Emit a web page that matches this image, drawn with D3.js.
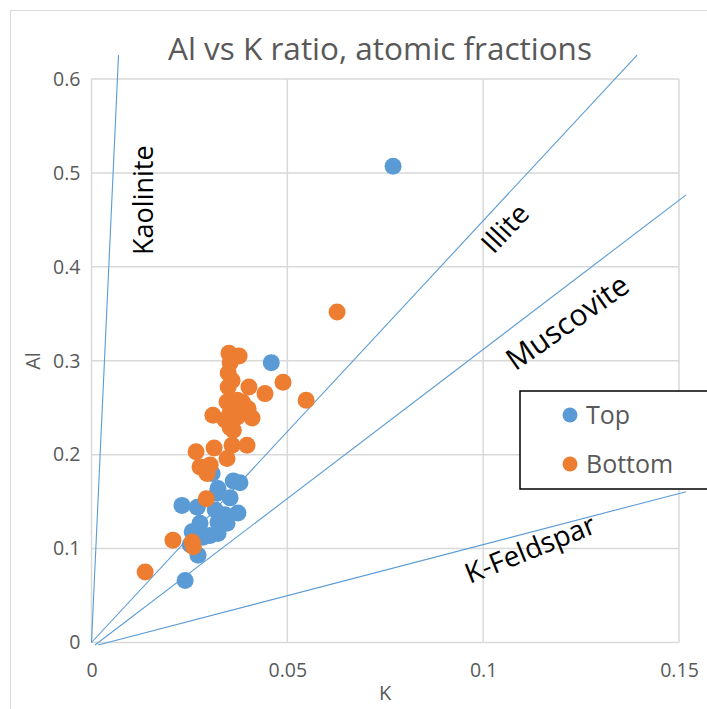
<!DOCTYPE html>
<html>
<head>
<meta charset="utf-8">
<script src="https://cdn.jsdelivr.net/npm/d3@7/dist/d3.min.js"></script>
<style>
  body { margin: 0; background: #fff; }
  svg { display: block; font-family: "Open Sans", "Noto Sans", sans-serif; }
</style>
</head>
<body>
<div id="chart"></div>
<script>
// series values (K, Al atomic fractions)
var topK  = [0.0770, 0.0459, 0.0231, 0.0270, 0.0321, 0.0362, 0.0379, 0.0354, 0.0316, 0.0341, 0.0374,
             0.0277, 0.0323, 0.0346, 0.0257, 0.0285, 0.0323, 0.0303, 0.0272, 0.0239, 0.0308, 0.0323, 0.0252];
var topAl = [0.507, 0.298, 0.146, 0.144, 0.159, 0.172, 0.170, 0.154, 0.141, 0.136, 0.138,
             0.127, 0.128, 0.127, 0.118, 0.112, 0.116, 0.114, 0.093, 0.066, 0.180, 0.164, 0.104];

var bottomK  = [0.0627, 0.0351, 0.0377, 0.0354, 0.0349, 0.0359, 0.0349, 0.0402, 0.0443, 0.0489, 0.0548,
                0.0346, 0.0372, 0.0385, 0.0400, 0.0410, 0.0310, 0.0354, 0.0341, 0.0372, 0.0354, 0.0362,
                0.0359, 0.0397, 0.0313, 0.0267, 0.0346, 0.0277, 0.0303, 0.0295, 0.0293, 0.0208, 0.0257,
                0.0260, 0.0137];
var bottomAl = [0.352, 0.308, 0.305, 0.298, 0.287, 0.279, 0.272, 0.272, 0.265, 0.277, 0.258,
                0.256, 0.258, 0.256, 0.249, 0.239, 0.242, 0.245, 0.237, 0.240, 0.229, 0.226,
                0.210, 0.210, 0.207, 0.203, 0.196, 0.187, 0.189, 0.180, 0.153, 0.109, 0.107,
                0.102, 0.075];

// reference mineral lines
var lineNames   = ["Kaolinite", "Illite", "Muscovite", "K-Feldspar"];
var lineStartK  = [0, 0, 0.0009, 0.0017];
var lineStartAl = [0, 0, -0.0027, -0.0027];
var lineEndK    = [0.0069, 0.1393, 0.1518, 0.1518];
var lineEndAl   = [0.6255, 0.6255, 0.4766, 0.1606];

var xTicks = [0, 0.05, 0.1, 0.15];
var yTicks = [0, 0.1, 0.2, 0.3, 0.4, 0.5, 0.6];

var seriesNames = ["Top", "Bottom"];
var seriesColors = ["#5b9bd5", "#ed7d31"];

var W = 707, H = 709;
var plot = { left: 91.5, right: 679, top: 79, bottom: 642.5 };

var svg = d3.select("#chart").append("svg").attr("width", W).attr("height", H);

// chart frame
svg.append("rect")
    .attr("x", 10.5).attr("y", 10.5)
    .attr("width", 720).attr("height", 720)
    .attr("fill", "#fff").attr("stroke", "#d9d9d9").attr("stroke-width", 1);

var x = d3.scaleLinear().domain([0, 0.15]).range([plot.left, plot.right]);
var y = d3.scaleLinear().domain([0, 0.6]).range([plot.bottom, plot.top]);

// gridlines
var grid = svg.append("g");
grid.selectAll("line.v").data(xTicks).enter().append("line")
    .attr("x1", function (d) { return x(d); }).attr("x2", function (d) { return x(d); })
    .attr("y1", plot.top).attr("y2", plot.bottom)
    .attr("stroke", "#d9d9d9").attr("stroke-width", 1.5);
grid.selectAll("line.h").data(yTicks).enter().append("line")
    .attr("x1", plot.left).attr("x2", plot.right)
    .attr("y1", function (d) { return y(d); }).attr("y2", function (d) { return y(d); })
    .attr("stroke", "#d9d9d9").attr("stroke-width", 1.5);

// axes (labels only, lines come from the grid)
var fmt = function (d) { return d === 0 ? "0" : String(+d.toFixed(2)); };
var xAxis = svg.append("g").attr("transform", "translate(0," + plot.bottom + ")")
    .call(d3.axisBottom(x).tickValues(xTicks).tickFormat(fmt).tickSize(0).tickPadding(21));
var yAxis = svg.append("g").attr("transform", "translate(" + plot.left + ",0)")
    .call(d3.axisLeft(y).tickValues(yTicks).tickFormat(fmt).tickSize(0).tickPadding(11));
[xAxis, yAxis].forEach(function (a) {
    a.select(".domain").remove();
    a.selectAll("text").attr("fill", "#595959").style("font-size", "19.5px")
        .style("font-family", "'Open Sans', sans-serif");
});

// axis titles
svg.append("text").attr("x", 385).attr("y", 700).attr("text-anchor", "middle")
    .attr("fill", "#595959").style("font-size", "20px").text("K");
svg.append("text").attr("transform", "translate(40,361) rotate(-90)").attr("text-anchor", "middle")
    .attr("fill", "#595959").style("font-size", "20px").text("Al");

// title
svg.append("text").attr("x", 380).attr("y", 60).attr("text-anchor", "middle")
    .attr("fill", "#595959").style("font-size", "31.5px").text("Al vs K ratio, atomic fractions");

// mineral reference lines
svg.append("g").selectAll("line").data(lineNames).enter().append("line")
    .attr("x1", function (d, i) { return x(lineStartK[i]); })
    .attr("y1", function (d, i) { return y(lineStartAl[i]); })
    .attr("x2", function (d, i) { return x(lineEndK[i]); })
    .attr("y2", function (d, i) { return y(lineEndAl[i]); })
    .attr("stroke", "#5b9bd5").attr("stroke-width", 1.1);

// line labels: position in data units, rotation and size
var labelK = [0.0132, 0.1056, 0.1215, 0.1120];
var labelAl = [0.471, 0.441, 0.341, 0.0995];
var labelRot = [-90, -47, -35, -22];
var labelSize = [27, 28, 30, 28];
svg.append("g").selectAll("text").data(lineNames).enter().append("text")
    .attr("transform", function (d, i) {
        return "translate(" + x(labelK[i]) + "," + y(labelAl[i]) + ") rotate(" + labelRot[i] + ")";
    })
    .attr("text-anchor", "middle").attr("dy", "0.35em")
    .attr("fill", "#000").style("font-size", function (d, i) { return labelSize[i] + "px"; })
    .text(function (d) { return d; });

// scatter points: Top first, Bottom drawn over it
var series = [
    topK.map(function (k, i) { return [k, topAl[i]]; }),
    bottomK.map(function (k, i) { return [k, bottomAl[i]]; })
];
series.forEach(function (pts, s) {
    svg.append("g").selectAll("circle").data(pts).enter().append("circle")
        .attr("cx", function (d) { return x(d[0]); })
        .attr("cy", function (d) { return y(d[1]); })
        .attr("r", 8.5)
        .attr("fill", seriesColors[s]);
});

// legend
var legend = svg.append("g").attr("transform", "translate(520,391)");
legend.append("rect").attr("x", 0).attr("y", 0).attr("width", 200).attr("height", 98)
    .attr("fill", "#fff").attr("stroke", "#000").attr("stroke-width", 1.5);
seriesNames.forEach(function (name, i) {
    var row = legend.append("g").attr("transform", "translate(0," + (24 + i * 49) + ")");
    row.append("circle").attr("cx", 50).attr("cy", 0).attr("r", 7.5).attr("fill", seriesColors[i]);
    row.append("text").attr("x", 66).attr("y", 0).attr("dy", "0.35em")
        .attr("fill", "#595959").style("font-size", "25px").text(name);
});
</script>
</body>
</html>
